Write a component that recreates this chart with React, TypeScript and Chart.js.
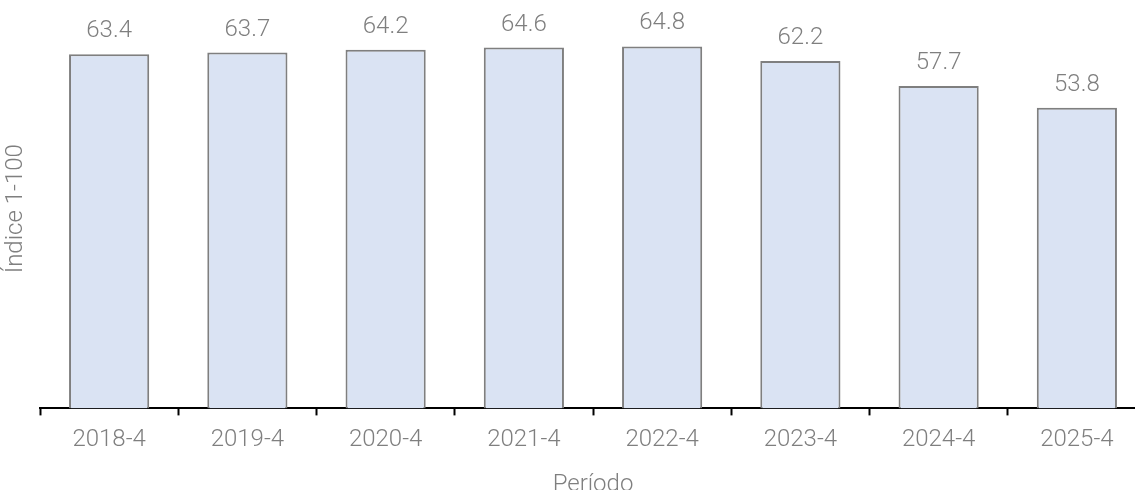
import React, { useEffect, useRef } from "react";
import { Chart, registerables } from "chart.js";

Chart.register(...registerables);

const categories = ["2018-4", "2019-4", "2020-4", "2021-4", "2022-4", "2023-4", "2024-4", "2025-4"];
const values = [63.4, 63.7, 64.2, 64.6, 64.8, 62.2, 57.7, 53.8];
const yTitle = "Índice 1-100";
const xTitle = "Período";

const FONT = "Roboto";
const TEXT = "#7f7f7f";
const SIZE = 24;

const valueLabels = {
  id: "valueLabels",
  afterDatasetsDraw(chart: any) {
    const ctx = chart.ctx;
    const meta = chart.getDatasetMeta(0);
    ctx.save();
    ctx.font = `300 ${SIZE}px ${FONT}`;
    ctx.fillStyle = TEXT;
    ctx.textAlign = "center";
    ctx.textBaseline = "alphabetic";
    meta.data.forEach((bar: any, i: number) => {
      ctx.fillText(values[i].toFixed(1), bar.x, bar.y - 17);
    });
    ctx.restore();
  },
};

export default function App() {
  const ref = useRef<HTMLCanvasElement | null>(null);
  useEffect(() => {
    if (!ref.current) return;
    const chart = new Chart(ref.current, {
      type: "bar",
      data: {
        labels: categories,
        datasets: [
          {
            data: values,
            backgroundColor: "#dae3f3",
            borderColor: "#7f7f7f",
            borderWidth: 2,
            categoryPercentage: 1,
            barPercentage: 0.58,
          },
        ],
      },
      options: {
        animation: false,
        responsive: true,
        maintainAspectRatio: false,
        layout: { padding: { top: 9, right: 4, left: 0, bottom: 0 } },
        plugins: { legend: { display: false }, tooltip: { enabled: false } },
        scales: {
          x: {
            offset: true,
            border: { display: true, color: "#000000", width: 2 },
            grid: {
              display: true,
              offset: true,
              drawOnChartArea: false,
              drawTicks: true,
              tickLength: 7,
              tickWidth: 2,
              tickColor: "#000000",
              color: "#000000",
            },
            ticks: { color: TEXT, font: { family: FONT, size: SIZE, weight: "300" }, padding: 10, maxRotation: 0 },
            title: {
              display: true,
              text: xTitle,
              color: TEXT,
              font: { family: FONT, size: SIZE, weight: "300" },
              padding: { top: 6, bottom: 4 },
            },
          },
          y: {
            min: 0,
            max: 71.5,
            border: { display: false },
            grid: { display: false },
            ticks: { display: false },
            title: {
              display: true,
              text: yTitle,
              color: TEXT,
              font: { family: FONT, size: SIZE, weight: "300" },
              padding: { top: 2, bottom: 0 },
            },
            afterFit: (scale: any) => {
              scale.width = 40;
            },
          },
        },
      },
      plugins: [valueLabels],
    });
    return () => chart.destroy();
  }, []);

  return (
    <div style={{ position: "fixed", left: 0, top: 0, width: 1150, height: 503 }}>
      <canvas ref={ref} />
    </div>
  );
}
